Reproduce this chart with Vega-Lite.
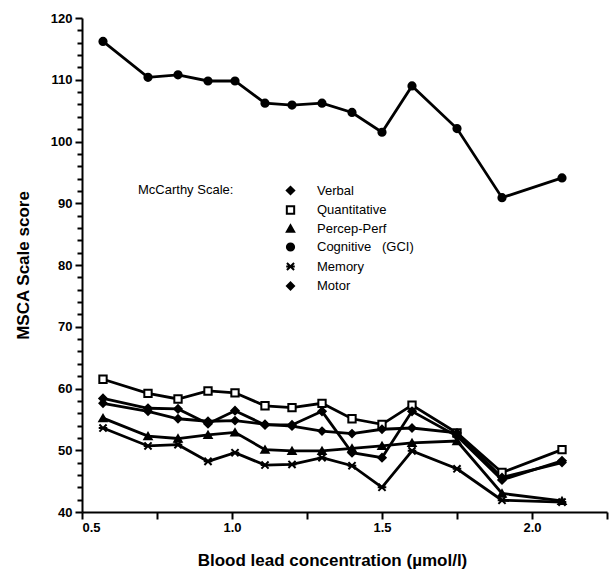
{
  "$schema": "https://vega.github.io/schema/vega-lite/v6.json",
  "width": 525,
  "height": 494,
  "autosize": "none",
  "padding": {"left": 82, "top": 18, "right": 9, "bottom": 68},
  "background": "white",
  "config": {
    "view": {"stroke": null},
    "font": "Liberation Sans",
    "axis": {
      "domainColor": "black", "domainWidth": 2, "tickColor": "black", "tickWidth": 2,
      "labelColor": "black", "titleColor": "black", "labelFont": "Liberation Sans",
      "titleFont": "Liberation Sans", "labelFontWeight": "bold", "titleFontWeight": "bold",
      "grid": false
    }
  },
  "data": {
    "values": [
      {"lead": 0.57, "scale": "Cognitive\u00a0\u00a0\u00a0(GCI)", "score": 116.2},
      {"lead": 0.72, "scale": "Cognitive\u00a0\u00a0\u00a0(GCI)", "score": 110.4},
      {"lead": 0.82, "scale": "Cognitive\u00a0\u00a0\u00a0(GCI)", "score": 110.8},
      {"lead": 0.92, "scale": "Cognitive\u00a0\u00a0\u00a0(GCI)", "score": 109.8},
      {"lead": 1.01, "scale": "Cognitive\u00a0\u00a0\u00a0(GCI)", "score": 109.8},
      {"lead": 1.11, "scale": "Cognitive\u00a0\u00a0\u00a0(GCI)", "score": 106.2},
      {"lead": 1.20, "scale": "Cognitive\u00a0\u00a0\u00a0(GCI)", "score": 105.9},
      {"lead": 1.30, "scale": "Cognitive\u00a0\u00a0\u00a0(GCI)", "score": 106.2},
      {"lead": 1.40, "scale": "Cognitive\u00a0\u00a0\u00a0(GCI)", "score": 104.7},
      {"lead": 1.50, "scale": "Cognitive\u00a0\u00a0\u00a0(GCI)", "score": 101.5},
      {"lead": 1.60, "scale": "Cognitive\u00a0\u00a0\u00a0(GCI)", "score": 109.0},
      {"lead": 1.75, "scale": "Cognitive\u00a0\u00a0\u00a0(GCI)", "score": 102.1},
      {"lead": 1.90, "scale": "Cognitive\u00a0\u00a0\u00a0(GCI)", "score": 90.9},
      {"lead": 2.10, "scale": "Cognitive\u00a0\u00a0\u00a0(GCI)", "score": 94.1},

      {"lead": 0.57, "scale": "Quantitative", "score": 61.5},
      {"lead": 0.72, "scale": "Quantitative", "score": 59.2},
      {"lead": 0.82, "scale": "Quantitative", "score": 58.3},
      {"lead": 0.92, "scale": "Quantitative", "score": 59.6},
      {"lead": 1.01, "scale": "Quantitative", "score": 59.3},
      {"lead": 1.11, "scale": "Quantitative", "score": 57.2},
      {"lead": 1.20, "scale": "Quantitative", "score": 56.9},
      {"lead": 1.30, "scale": "Quantitative", "score": 57.6},
      {"lead": 1.40, "scale": "Quantitative", "score": 55.1},
      {"lead": 1.50, "scale": "Quantitative", "score": 54.2},
      {"lead": 1.60, "scale": "Quantitative", "score": 57.3},
      {"lead": 1.75, "scale": "Quantitative", "score": 52.8},
      {"lead": 1.90, "scale": "Quantitative", "score": 46.4},
      {"lead": 2.10, "scale": "Quantitative", "score": 50.1},

      {"lead": 0.57, "scale": "Verbal", "score": 58.4},
      {"lead": 0.72, "scale": "Verbal", "score": 56.8},
      {"lead": 0.82, "scale": "Verbal", "score": 56.7},
      {"lead": 0.92, "scale": "Verbal", "score": 54.3},
      {"lead": 1.01, "scale": "Verbal", "score": 56.4},
      {"lead": 1.11, "scale": "Verbal", "score": 54.1},
      {"lead": 1.20, "scale": "Verbal", "score": 54.1},
      {"lead": 1.30, "scale": "Verbal", "score": 56.3},
      {"lead": 1.40, "scale": "Verbal", "score": 49.6},
      {"lead": 1.50, "scale": "Verbal", "score": 48.8},
      {"lead": 1.60, "scale": "Verbal", "score": 56.3},
      {"lead": 1.75, "scale": "Verbal", "score": 52.3},
      {"lead": 1.90, "scale": "Verbal", "score": 45.2},
      {"lead": 2.10, "scale": "Verbal", "score": 48.3},

      {"lead": 0.57, "scale": "Motor", "score": 57.6},
      {"lead": 0.72, "scale": "Motor", "score": 56.3},
      {"lead": 0.82, "scale": "Motor", "score": 55.1},
      {"lead": 0.92, "scale": "Motor", "score": 54.7},
      {"lead": 1.01, "scale": "Motor", "score": 54.8},
      {"lead": 1.11, "scale": "Motor", "score": 54.2},
      {"lead": 1.20, "scale": "Motor", "score": 53.9},
      {"lead": 1.30, "scale": "Motor", "score": 53.1},
      {"lead": 1.40, "scale": "Motor", "score": 52.7},
      {"lead": 1.50, "scale": "Motor", "score": 53.4},
      {"lead": 1.60, "scale": "Motor", "score": 53.6},
      {"lead": 1.75, "scale": "Motor", "score": 52.8},
      {"lead": 1.90, "scale": "Motor", "score": 45.6},
      {"lead": 2.10, "scale": "Motor", "score": 48.0},

      {"lead": 0.57, "scale": "Percep-Perf", "score": 55.2},
      {"lead": 0.72, "scale": "Percep-Perf", "score": 52.3},
      {"lead": 0.82, "scale": "Percep-Perf", "score": 51.9},
      {"lead": 0.92, "scale": "Percep-Perf", "score": 52.5},
      {"lead": 1.01, "scale": "Percep-Perf", "score": 52.9},
      {"lead": 1.11, "scale": "Percep-Perf", "score": 50.1},
      {"lead": 1.20, "scale": "Percep-Perf", "score": 49.9},
      {"lead": 1.30, "scale": "Percep-Perf", "score": 49.9},
      {"lead": 1.40, "scale": "Percep-Perf", "score": 50.3},
      {"lead": 1.50, "scale": "Percep-Perf", "score": 50.7},
      {"lead": 1.60, "scale": "Percep-Perf", "score": 51.2},
      {"lead": 1.75, "scale": "Percep-Perf", "score": 51.5},
      {"lead": 1.90, "scale": "Percep-Perf", "score": 43.0},
      {"lead": 2.10, "scale": "Percep-Perf", "score": 41.8},

      {"lead": 0.57, "scale": "Memory", "score": 53.6},
      {"lead": 0.72, "scale": "Memory", "score": 50.7},
      {"lead": 0.82, "scale": "Memory", "score": 50.9},
      {"lead": 0.92, "scale": "Memory", "score": 48.2},
      {"lead": 1.01, "scale": "Memory", "score": 49.6},
      {"lead": 1.11, "scale": "Memory", "score": 47.6},
      {"lead": 1.20, "scale": "Memory", "score": 47.7},
      {"lead": 1.30, "scale": "Memory", "score": 48.8},
      {"lead": 1.40, "scale": "Memory", "score": 47.5},
      {"lead": 1.50, "scale": "Memory", "score": 44.0},
      {"lead": 1.60, "scale": "Memory", "score": 49.9},
      {"lead": 1.75, "scale": "Memory", "score": 47.0},
      {"lead": 1.90, "scale": "Memory", "score": 41.9},
      {"lead": 2.10, "scale": "Memory", "score": 41.6}
    ]
  },
  "encoding": {
    "x": {
      "field": "lead", "type": "quantitative",
      "scale": {"domain": [0.5, 2.25], "nice": false, "zero": false},
      "axis": {
        "title": "Blood lead concentration (µmol/l)",
        "values": [0.5, 0.75, 1, 1.25, 1.5, 1.75, 2, 2.25],
        "labelExpr": "(datum.value * 2) % 1 == 0 && datum.value < 2.2 ? format(datum.value, '.1f') : ''",
        "tickSize": 7, "labelPadding": 2, "labelFontSize": 13,
        "titleFontSize": 17, "titlePadding": 18, "titleX": 250
      }
    },
    "y": {
      "field": "score", "type": "quantitative",
      "scale": {"domain": [40, 120], "nice": false, "zero": false},
      "axis": {
        "title": "MSCA Scale score",
        "values": [40,42,44,46,48,50,52,54,56,58,60,62,64,66,68,70,72,74,76,78,80,82,84,86,88,90,92,94,96,98,100,102,104,106,108,110,112,114,116,118,120],
        "labelExpr": "datum.value % 10 == 0 ? datum.label : ''",
        "tickSize": {"condition": {"test": "datum.value % 10 == 0", "value": 7}, "value": 5},
        "labelPadding": 3, "labelFontSize": 13,
        "titleFontSize": 17, "titlePadding": 18
      }
    }
  },
  "layer": [
    {
      "mark": {"type": "line", "stroke": "black", "strokeWidth": 2.8},
      "encoding": {"detail": {"field": "scale"}}
    },
    {
      "mark": {"type": "point", "filled": true, "stroke": "black", "strokeWidth": 2, "opacity": 1},
      "encoding": {
        "shape": {
          "field": "scale", "type": "nominal", "title": "McCarthy Scale:",
          "scale": {
            "domain": ["Verbal", "Quantitative", "Percep-Perf", "Cognitive\u00a0\u00a0\u00a0(GCI)", "Memory", "Motor"],
            "range": ["diamond", "square", "triangle-up", "circle", "M-1,-1L1,1M-1,1L1,-1M-1.2,0L1.2,0", "diamond"]
          },
          "legend": {
            "orient": "none", "legendX": 56, "legendY": 166,
            "titleOrient": "left", "titleAnchor": "start", "titleBaseline": "top",
            "titleFontSize": 13, "titleFontWeight": "normal",
            "titleColor": "black", "titlePadding": 50,
            "labelFontSize": 13, "labelColor": "black", "labelOffset": 20,
            "rowPadding": 2.5, "symbolStrokeColor": "black", "symbolStrokeWidth": 2
          }
        },
        "fill": {
          "field": "scale", "type": "nominal", "title": "McCarthy Scale:",
          "scale": {
            "domain": ["Verbal", "Quantitative", "Percep-Perf", "Cognitive\u00a0\u00a0\u00a0(GCI)", "Memory", "Motor"],
            "range": ["black", "white", "black", "black", "black", "black"]
          }
        },
        "size": {
          "field": "scale", "type": "nominal", "title": "McCarthy Scale:",
          "scale": {
            "domain": ["Verbal", "Quantitative", "Percep-Perf", "Cognitive\u00a0\u00a0\u00a0(GCI)", "Memory", "Motor"],
            "range": [55, 50, 30, 80, 30, 60]
          }
        }
      }
    }
  ]
}
